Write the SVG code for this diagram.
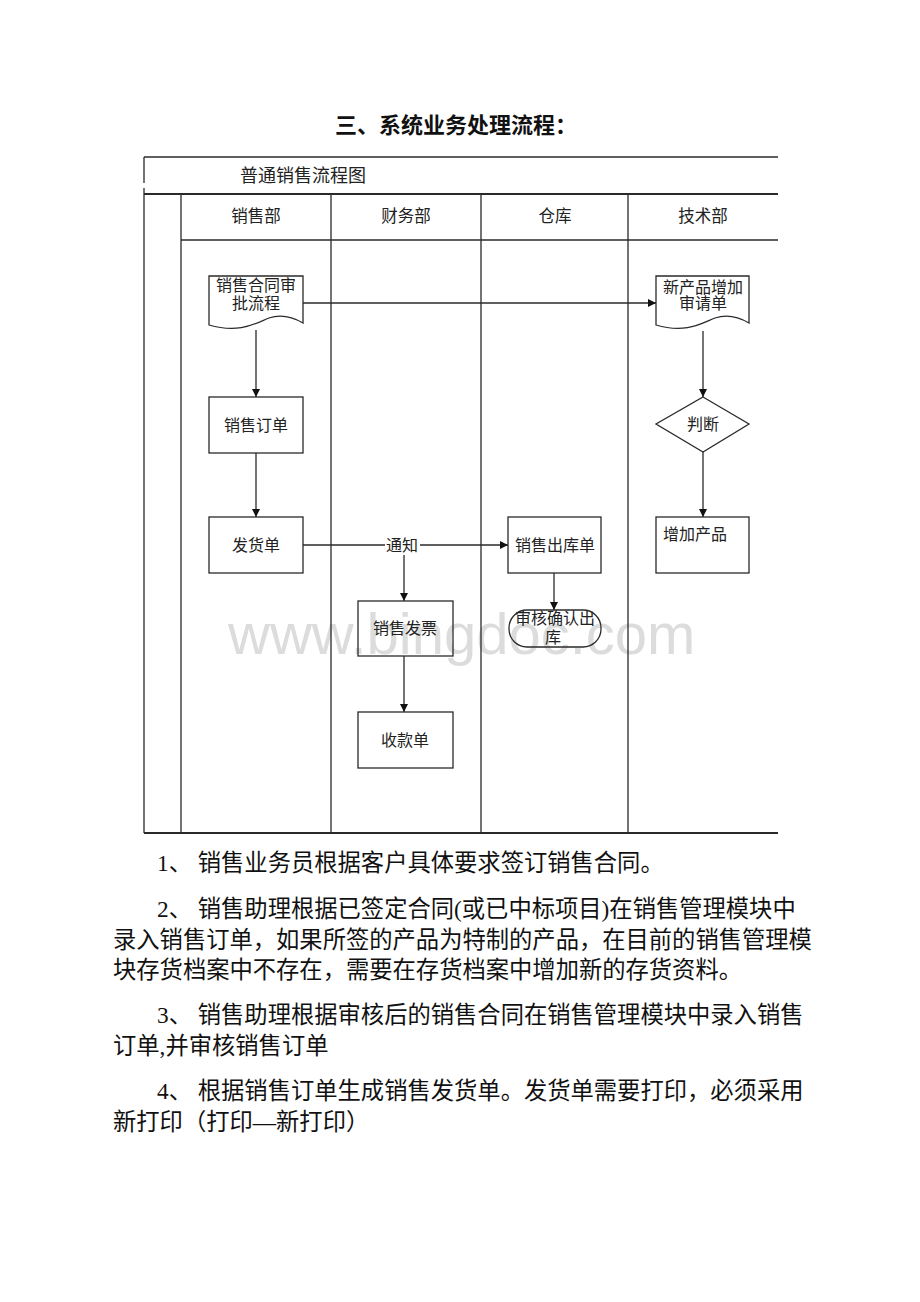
<svg xmlns="http://www.w3.org/2000/svg" width="920" height="1302" viewBox="0 0 920 1302">
<defs>
<style>
.ln{stroke:#2a2a2a;stroke-width:1.3;fill:none}
.box{stroke:#2a2a2a;stroke-width:1.3;fill:none}
.t{font-family:"Noto Sans CJK SC","Liberation Sans",sans-serif;font-size:16px;fill:#222;text-anchor:middle}
.hd{font-family:"Noto Sans CJK SC","Liberation Sans",sans-serif;font-size:16.5px;fill:#222;text-anchor:middle}
.body{font-family:"Liberation Serif","Noto Sans CJK SC",serif;font-size:23.3px;fill:#111}
.arr{stroke:#2a2a2a;stroke-width:1.3;fill:none;marker-end:url(#ah)}
</style>
<marker id="ah" viewBox="0 0 10 10" refX="10" refY="5" markerWidth="8" markerHeight="8" markerUnits="userSpaceOnUse" orient="auto">
<path d="M0,0 L10,5 L0,10 Z" fill="#111"/>
</marker>
</defs>
<rect width="920" height="1302" fill="#fff"/>

<text x="456" y="133" text-anchor="middle" font-family="Liberation Serif, Noto Sans CJK SC, serif" font-size="22" font-weight="bold" fill="#111">三、系统业务处理流程：</text>

<text id="watermark" x="228" y="654" font-family="Liberation Sans, Arial, sans-serif" font-size="58" fill="#dcdcdc">www.bingdoc.com</text>

<g id="frame">
<path class="ln" d="M144,157 H778"/>
<path class="ln" d="M144,157 V183 M144,188 V833"/>
<path class="ln" stroke-width="2.2" d="M144,194 H778" style="stroke-width:2.2"/>
<path class="ln" d="M181,240 H778"/>
<path class="ln" d="M144,833 H778" style="stroke-width:1.8"/>
<path class="ln" d="M181,194 V833 M331,194 V833 M481,194 V833 M628,194 V833"/>
<text x="240" y="182" font-family="Noto Sans CJK SC, Liberation Sans, sans-serif" font-size="18" fill="#222">普通销售流程图</text>
<text class="hd" x="256" y="222">销售部</text>
<text class="hd" x="406" y="222">财务部</text>
<text class="hd" x="555" y="222">仓库</text>
<text class="hd" x="703" y="222">技术部</text>
</g>

<g id="connectors">
<path class="arr" d="M256,330 V397"/>
<path class="arr" d="M256,453 V517"/>
<path class="arr" d="M303,303 H656"/>
<path class="arr" d="M703,331 V397"/>
<path class="arr" d="M703,452 V517"/>
<path class="arr" d="M303,545 H508"/>
<path class="arr" d="M404,545 V601"/>
<path class="arr" d="M404,656 V712"/>
<path class="arr" d="M554,573 V610"/>
<rect x="385" y="535" width="35" height="20" fill="#fff"/>
<text class="t" x="402" y="551">通知</text>
</g>

<g id="n_contract">
<path class="box" d="M209,276 H303 V323 C291,316 281,314 269,318 C256,323 240,334 209,325 Z"/>
<text class="t" x="256" y="291">销售合同审</text>
<text class="t" x="256" y="309">批流程</text>
</g>

<g id="n_newproduct">
<path class="box" d="M656,276 H749 V323 C737,316 727,314 715,318 C702,323 686,334 656,325 Z"/>
<text class="t" x="703" y="293">新产品增加</text>
<text class="t" x="703" y="309">审请单</text>
</g>

<g id="n_order">
<rect class="box" x="209" y="397" width="94" height="56"/>
<text class="t" x="256" y="431">销售订单</text>
</g>

<g id="n_delivery">
<rect class="box" x="209" y="517" width="94" height="56"/>
<text class="t" x="256" y="551">发货单</text>
</g>

<g id="n_outbound">
<rect class="box" x="508" y="517" width="93" height="56"/>
<text class="t" x="555" y="551">销售出库单</text>
</g>

<g id="n_confirm">
<rect class="box" x="509" y="610" width="92" height="37" rx="18" ry="18"/>
<text class="t" x="555" y="624">审核确认出</text>
<text class="t" x="553" y="643">库</text>
</g>

<g id="n_invoice">
<rect class="box" x="358" y="601" width="95" height="55"/>
<text class="t" x="405" y="634">销售发票</text>
</g>

<g id="n_receipt">
<rect class="box" x="358" y="712" width="95" height="56"/>
<text class="t" x="405" y="746">收款单</text>
</g>

<g id="n_judge">
<path class="box" d="M703,397 L749,424 L703,452 L656,424 Z"/>
<text class="t" x="703" y="430">判断</text>
</g>

<g id="n_addproduct">
<rect class="box" x="656" y="517" width="93" height="56"/>
<text class="t" x="663" y="540" style="text-anchor:start">增加产品</text>
</g>

<g id="notes">
<text class="body" x="157" y="871">1、 销售业务员根据客户具体要求签订销售合同。</text>
<text class="body" x="157" y="917">2、 销售助理根据已签定合同(或已中标项目)在销售管理模块中</text>
<text class="body" x="113" y="948">录入销售订单，如果所签的产品为特制的产品，在目前的销售管理模</text>
<text class="body" x="113" y="978">块存货档案中不存在，需要在存货档案中增加新的存货资料。</text>
<text class="body" x="157" y="1023">3、 销售助理根据审核后的销售合同在销售管理模块中录入销售</text>
<text class="body" x="113" y="1054">订单,并审核销售订单</text>
<text class="body" x="157" y="1099">4、 根据销售订单生成销售发货单。发货单需要打印，必须采用</text>
<text class="body" x="113" y="1130">新打印（打印—新打印）</text>
</g>
</svg>
